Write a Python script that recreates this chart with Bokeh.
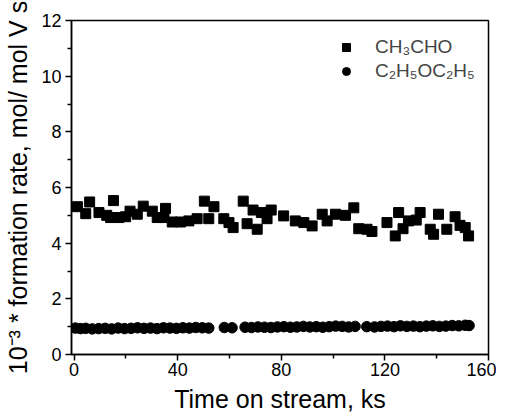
from bokeh.plotting import figure
from bokeh.models import Range1d, FixedTicker, Legend, LegendItem
from bokeh.embed import file_html
from bokeh.resources import INLINE

# CH3CHO formation rate (squares)
sq_time = [1.3, 4.5, 6.0, 9.6, 12.6, 14.1, 15.2, 17.3, 19.9, 21.6, 24.4, 26.7, 30.2, 32.1,
           34.7, 35.3, 37.9, 41.1, 44.3, 47.5, 50.3, 52.0, 54.0, 57.8, 59.8, 61.4, 65.3,
           66.8, 69.1, 70.7, 72.3, 74.5, 76.1, 80.9, 85.4, 88.7, 91.9, 95.8, 97.7, 100.9,
           104.8, 108.0, 109.9, 113.1, 115.0, 120.8, 124.0, 125.3, 127.0, 129.1, 132.1,
           133.6, 137.5, 138.8, 140.7, 143.9, 147.1, 149.0, 151.0, 152.3]
sq_rate = [5.31, 5.06, 5.48, 5.10, 5.00, 4.92, 5.53, 4.92, 4.95, 5.15, 5.04, 5.33, 5.15, 4.92,
           4.92, 5.25, 4.76, 4.76, 4.80, 4.88, 5.51, 4.88, 5.31, 4.88, 4.74, 4.56, 5.51,
           4.70, 5.19, 4.50, 5.10, 4.88, 5.19, 4.98, 4.80, 4.74, 4.62, 5.04, 4.80, 5.04,
           5.00, 5.27, 4.52, 4.50, 4.42, 4.74, 4.26, 5.10, 4.52, 4.80, 4.83,
           5.10, 4.50, 4.32, 5.04, 4.50, 4.95, 4.64, 4.56, 4.26]

# C2H5OC2H5 formation rate (circles)
ci_time = [0.5, 2.5, 4.5, 7.0, 9.5, 12.0, 14.5, 17.0, 19.5, 22.0, 24.5, 27.0, 29.5, 32.0,
           34.5, 37.0, 39.5, 42.0, 44.5, 47.0, 49.5, 52.0, 58.0, 61.0, 66.0, 68.5, 71.0,
           73.5, 76.0, 78.5, 81.0, 83.5, 86.0, 88.5, 91.0, 93.5, 96.0, 98.5, 101.0, 103.5,
           106.0, 108.5, 113.0, 116.0, 118.5, 121.0, 123.5, 126.0, 128.5, 131.0, 133.5,
           136.0, 138.5, 141.0, 143.5, 146.0, 148.5, 151.0, 152.5]
ci_rate = [0.95, 0.93, 0.94, 0.92, 0.93, 0.94, 0.92, 0.95, 0.93, 0.94, 0.96, 0.94, 0.95, 0.93,
           0.96, 0.95, 0.94, 0.96, 0.95, 0.97, 0.96, 0.95, 0.97, 0.96, 0.98, 0.97, 0.99,
           0.98, 0.97, 0.99, 1.00, 0.98, 0.99, 1.01, 0.99, 1.00, 0.98, 1.00, 1.02, 1.01,
           0.99, 1.01, 1.00, 0.99, 1.01, 1.02, 1.00, 1.03, 1.01, 1.02, 1.00,
           1.02, 1.03, 1.01, 1.02, 1.04, 1.03, 1.05, 1.04]

x_ticks = [0, 40, 80, 120, 160]
x_minor = [20, 60, 100, 140]
y_ticks = [0, 2, 4, 6, 8, 10, 12]
y_minor = [1, 3, 5, 7, 9, 11]

FONT = "Liberation Sans"

p = figure(frame_width=417, frame_height=334, output_backend="svg", toolbar_location=None,
           x_range=Range1d(-1.0, 160), y_range=Range1d(0, 12),
           min_border_left=71, min_border_right=8, min_border_top=20, min_border_bottom=50)
p.background_fill_color = "white"
p.border_fill_color = "white"
p.outline_line_color = "black"
p.outline_line_width = 1.5
p.grid.visible = False

p.xaxis.ticker = FixedTicker(ticks=x_ticks, minor_ticks=x_minor)
p.yaxis.ticker = FixedTicker(ticks=y_ticks, minor_ticks=y_minor)
for ax in (p.xaxis[0], p.yaxis[0]):
    ax.axis_line_width = 1.5
    ax.axis_line_color = "black"
    ax.major_tick_line_width = 1.5
    ax.minor_tick_line_width = 1.5
    ax.major_tick_in = 0
    ax.minor_tick_in = 0
    ax.major_tick_out = 6
    ax.minor_tick_out = 4
    ax.major_label_text_font = FONT
    ax.major_label_text_font_size = "18px"
    ax.major_label_text_color = "black"
    ax.axis_label_text_font = FONT
    ax.axis_label_text_font_style = "normal"
    ax.axis_label_text_color = "black"

p.xaxis.axis_label_text_font_size = "25px"
p.yaxis.axis_label_text_font_size = "25px"
p.xaxis.major_label_standoff = 2
p.xaxis.axis_label_standoff = 6
p.yaxis.major_label_standoff = 4
p.yaxis.axis_label_standoff = 6
p.xaxis.axis_label = "Time on stream, ks"
p.yaxis.axis_label = "10\u207b\u00b3 * formation rate, mol/ mol V s"

r1 = p.scatter(sq_time, sq_rate, marker="square", size=10, color="black")
r2 = p.scatter(ci_time, ci_rate, marker="circle", size=10.5, color="black")

legend = Legend(items=[LegendItem(label="CH\u2083CHO", renderers=[r1]),
                       LegendItem(label="C\u2082H\u2085OC\u2082H\u2085", renderers=[r2])],
                location=(265, 272))
legend.border_line_color = None
legend.background_fill_alpha = 0
legend.label_text_font = FONT
legend.label_text_font_size = "19px"
legend.label_standoff = 19
legend.glyph_width = 20
legend.glyph_height = 22
legend.label_height = 22
legend.spacing = 2
legend.padding = 0
legend.margin = 0
p.add_layout(legend)

open("out.html", "w").write(file_html(p, INLINE))
